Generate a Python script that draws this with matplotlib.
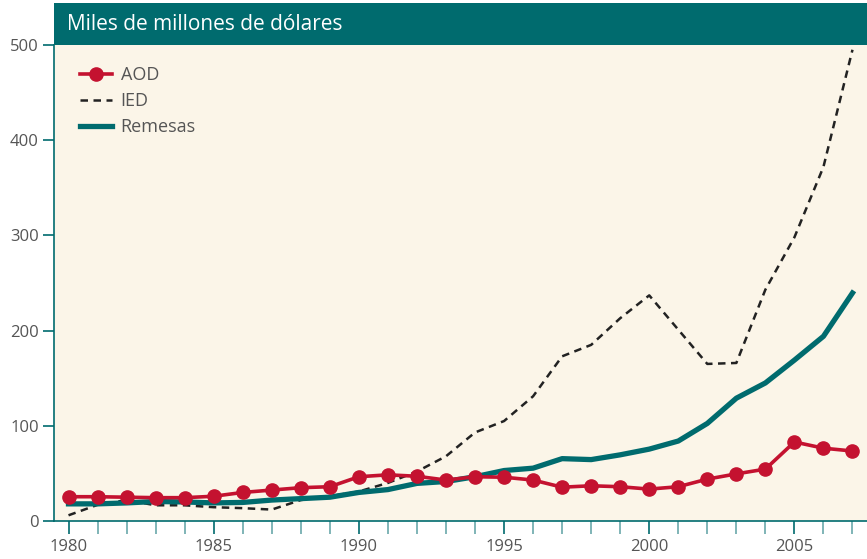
import numpy as np
import matplotlib
matplotlib.use("Agg")
import matplotlib.pyplot as plt
from matplotlib.patches import Rectangle

plt.rcParams['font.family'] = ['Open Sans', 'DejaVu Sans']

# -------------- datos ------------------
years = list(range(1980, 2008))
aod = [25.5, 25.5, 25, 24.5, 24.5, 26, 30, 32.5, 35, 36,
       46.5, 48.5, 47, 43, 46.5, 46, 43, 35.5, 37, 36,
       33.5, 36, 44, 49.5, 54.5, 83, 76.5, 73.5]
ied = [6, 17, 22, 16.5, 16.5, 14.5, 13.5, 12, 22, 26,
       31, 40, 52, 68, 93, 105, 131, 173, 185, 213,
       237, 201, 165, 166, 243, 298, 372, 495]
remesas = [18, 18, 19, 20.5, 20, 19, 19.5, 22, 23.5, 25,
           30, 33, 39.5, 41.5, 46.5, 53, 55.5, 65.5, 64.5, 69.5,
           75.5, 84, 102.5, 129, 145, 169, 194, 239.5]

teal = "#006B6E"
red = "#C41230"
grey = "#555555"

fig = plt.figure(figsize=(8.67, 5.59), dpi=100)
fig.set_facecolor("white")
ax = fig.add_axes([54 / 867, 1 - 521 / 559, 1 - 54 / 867, (521 - 45) / 559])
ax.set_facecolor("#FBF5E8")

# banda del título
fig.patches.append(Rectangle((54 / 867, 1 - 45 / 559), 1 - 54 / 867, 42 / 559,
                             transform=fig.transFigure, facecolor=teal,
                             edgecolor="none", zorder=5))
fig.text(67 / 867, 1 - 24 / 559, "Miles de millones de dólares", color="white",
         fontsize=15, va="center", ha="left", zorder=6)

ax.plot(years, ied, color="#222222", lw=1.8, ls=(0, (3, 2.2)), label="IED", zorder=2)
ax.plot(years, remesas, color=teal, lw=3.8, label="Remesas", zorder=3)
ax.plot(years, aod, color=red, lw=2.6, marker="o", markersize=9.5, label="AOD", zorder=4)

ax.set_xlim(1979.5, 2007.5)
ax.set_ylim(0, 500)
ax.set_yticks([0, 100, 200, 300, 400, 500])
ax.set_xticks([1980, 1985, 1990, 1995, 2000, 2005])
ax.set_xticks(years, minor=True)

for s in ["top", "right"]:
    ax.spines[s].set_visible(False)
for s in ["left", "bottom"]:
    ax.spines[s].set_color(teal)
    ax.spines[s].set_linewidth(1.2)

ax.tick_params(axis="y", colors=teal, labelcolor=grey, length=8, width=1.2,
               labelsize=12, pad=3)
ax.tick_params(axis="x", which="both", colors=teal, labelcolor=grey, length=9,
               width=1.2, labelsize=12, pad=4)
ax.tick_params(axis="x", which="minor", colors="#6AA8AA")

h, l = ax.get_legend_handles_labels()
order = [2, 0, 1]
ax.legend([h[i] for i in order], [l[i] for i in order], loc="upper left",
          bbox_to_anchor=(0.012, 0.99), frameon=False, fontsize=13,
          labelcolor=grey, handlelength=1.75, handletextpad=0.5, labelspacing=0.45)

fig.savefig("out.png", dpi=100)
